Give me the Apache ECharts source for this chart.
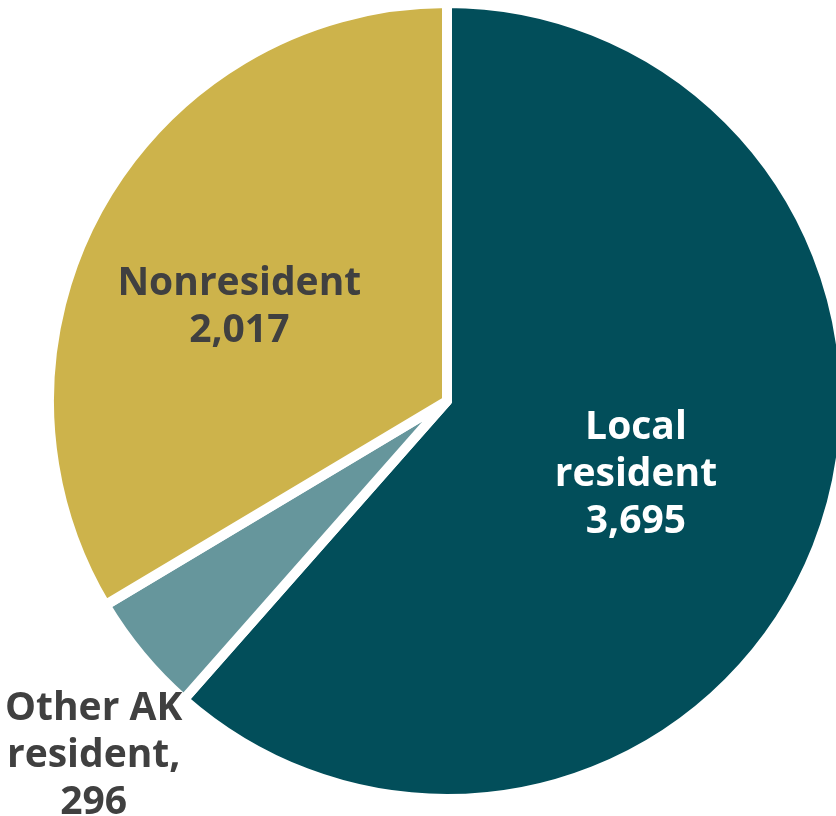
<!DOCTYPE html>
<html>
<head>
<meta charset="utf-8">
<script src="https://cdn.jsdelivr.net/npm/echarts@6/dist/echarts.min.js"></script>
<style>
html,body{margin:0;padding:0;background:#fff;}
#chart{width:836px;height:816px;}
</style>
</head>
<body>
<div id="chart"></div>
<script>
const categories = ["Local resident", "Other AK resident", "Nonresident"];
const values = [3695, 296, 2017];
const labelNames = ["Local\nresident", "Other AK\nresident,", "Nonresident"];
const colors = ["#024E5A", "#66969C", "#CDB34B"];
const labelColors = ["#FFFFFF", "#404040", "#404040"];

const chart = echarts.init(document.getElementById('chart'));
const fmt = v => v.toLocaleString('en-US');
chart.setOption({
  animation: false,
  series: [{
    type: 'pie',
    center: [447, 401],
    radius: [0, 398],
    startAngle: 90,
    clockwise: true,
    avoidLabelOverlap: false,
    data: categories.map((c, i) => ({
      name: c,
      value: values[i],
      itemStyle: { color: colors[i] },
      label: { color: labelColors[i] }
    })),
    itemStyle: { borderColor: '#ffffff', borderWidth: 10 },
    label: {
      show: true,
      position: 'inside',
      fontFamily: 'Open Sans',
      fontWeight: 'bold',
      fontSize: 39,
      lineHeight: 47,
      align: 'center',
      formatter: p => labelNames[p.dataIndex] + '\n' + fmt(p.value)
    },
    labelLine: { show: false },
    labelLayout: function (params) {
      if (params.dataIndex === 1) return { dx: -198, dy: 226 };
      if (params.dataIndex === 2) return { dx: -32, dy: 6 };
      return { dx: 0, dy: 2 };
    }
  }]
});
</script>
</body>
</html>
